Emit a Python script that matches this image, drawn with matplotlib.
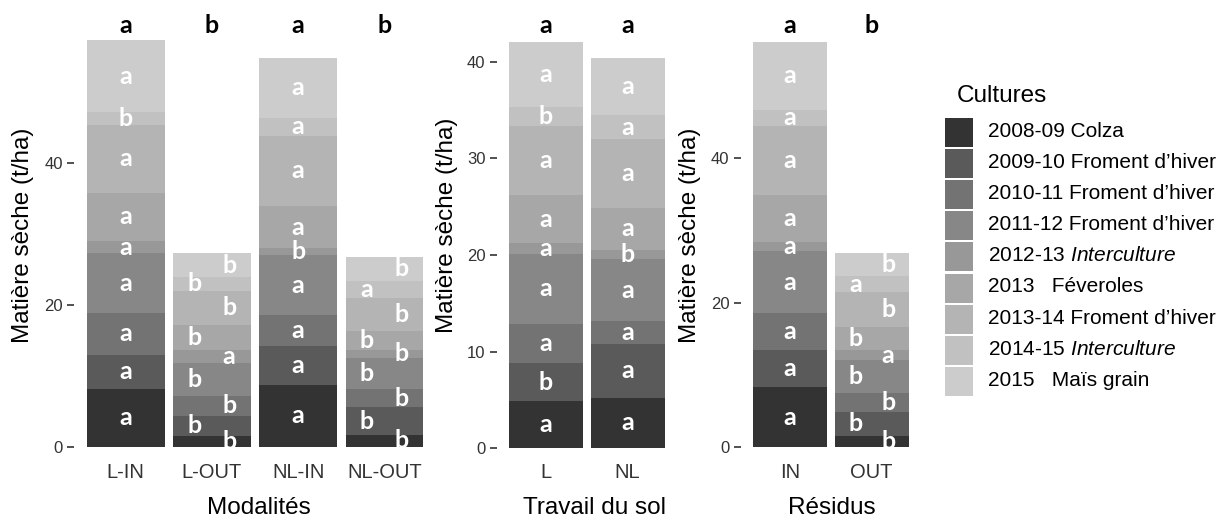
import matplotlib
matplotlib.use('Agg')
import matplotlib.pyplot as plt
from matplotlib.patches import Rectangle
from matplotlib.transforms import blended_transform_factory
import numpy as np

plt.rcParams['font.family'] = ['Liberation Sans', 'DejaVu Sans']
plt.rcParams['mathtext.fontset'] = 'custom'
plt.rcParams['mathtext.rm'] = 'Liberation Sans'
plt.rcParams['mathtext.it'] = 'Liberation Sans:italic'

# => DATA (t/ha, stacked from 2008-09 Colza up to 2015 Maïs grain)
cultures = [
    "2008-09 Colza",
    "2009-10 Froment d\u2019hiver",
    "2010-11 Froment d\u2019hiver",
    "2011-12 Froment d\u2019hiver",
    r"2012-13 $\mathit{Interculture}$",
    "2013   F\u00e9veroles",
    "2013-14 Froment d\u2019hiver",
    r"2014-15 $\mathit{Interculture}$",
    "2015   Ma\u00efs grain",
]

modalites = ["L-IN", "L-OUT", "NL-IN", "NL-OUT"]
l_in = [8.2, 4.8, 5.9, 8.4, 1.8, 6.8, 9.5, 1.9, 10.1]
l_out = [1.5, 2.85, 2.85, 4.55, 1.9, 3.55, 4.8, 2.0, 3.3]
nl_in = [8.75, 5.45, 4.35, 8.5, 0.95, 6.05, 9.85, 2.55, 8.5]
nl_out = [1.65, 3.95, 2.55, 4.4, 1.1, 2.7, 4.6, 2.5, 3.4]
mod_letters = ["aaaaaaaba", "bbbbabbbb", "aaaabaaaa", "bbbbbbbab"]
mod_tops = ["a", "b", "a", "b"]

travail = ["L", "NL"]
sol_l = [4.85, 3.95, 4.05, 7.3, 1.05, 5.0, 7.15, 2.0, 6.65]
sol_nl = [5.25, 5.55, 2.4, 6.35, 0.95, 4.4, 7.05, 2.5, 5.95]
sol_letters = ["abaaaaaba", "aaaabaaaa"]
sol_tops = ["a", "a"]

residus = ["IN", "OUT"]
res_in = [8.3, 5.15, 5.15, 8.45, 1.25, 6.6, 9.45, 2.3, 9.3]
res_out = [1.55, 3.35, 2.65, 4.5, 1.4, 3.15, 4.8, 2.2, 3.3]
res_letters = ["aaaaaaaaa", "bbbbabbab"]
res_tops = ["a", "b"]

# ggplot scale_fill_grey(start=0.2, end=0.8)
palette = ["#333333", "#5A5A5A", "#737373", "#878787", "#989898",
           "#A7A7A7", "#B4B4B4", "#C1C1C1", "#CCCCCC"]

W, H = 1225, 519
TOP, BOT = 15, 460
fig = plt.figure(figsize=(W / 100, H / 100), dpi=100)


def px_rect(x0, x1):
    return [x0 / W, 1 - BOT / H, (x1 - x0) / W, (BOT - TOP) / H]


def draw_panel(rect, cats, bars, letters, tops, ylim, step, xlabel, xlab_x, ylab_xy):
    ax = fig.add_axes(rect)
    x = np.arange(len(cats))
    vals = np.array(bars)
    bottom = np.zeros(len(cats))
    stagger = ["OUT" in c for c in cats]

    for j in range(vals.shape[1]):
        ax.bar(x, vals[:, j], 0.9, bottom=bottom, color=palette[j], linewidth=0)
        for i in range(len(cats)):
            dx = (0.2 if j % 2 == 0 else -0.2) if stagger[i] else 0
            ax.text(x[i] + dx, bottom[i] + vals[i, j] / 2, letters[i][j],
                    ha="center", va="center", color="white", fontsize=18,
                    family="Lato", weight="bold")
        bottom += vals[:, j]

    trans = blended_transform_factory(ax.transData, ax.transAxes)
    for i, t in enumerate(tops):
        ax.text(x[i], (BOT - 33) / (BOT - TOP), t, transform=trans, ha="center",
                va="baseline", fontsize=18, family="Lato", weight="bold", color="black")

    ax.set_xlim(-0.6, len(cats) - 0.4)
    ax.set_ylim(*ylim)
    ax.set_xticks(x)
    ax.set_xticklabels(cats)
    ax.set_yticks(np.arange(0, bottom.max(), step))
    for s in ax.spines.values():
        s.set_visible(False)
    ax.tick_params(axis="x", length=0, pad=2.5, labelsize=14.5, labelcolor="#333333")
    ax.tick_params(axis="y", length=5, width=1.2, color="#333333", pad=3,
                   labelsize=12, labelcolor="#333333")

    ax.set_xlabel(xlabel, fontsize=17.5)
    ax.xaxis.set_label_coords(xlab_x, (BOT - 497) / (BOT - TOP))
    ax.set_ylabel("Mati\u00e8re s\u00e8che (t/ha)", fontsize=17.5)
    ax.yaxis.label.set_va("center")
    ax.yaxis.set_label_coords(*ylab_xy)
    return ax


draw_panel(px_rect(74, 436), modalites, [l_in, l_out, nl_in, nl_out], mod_letters, mod_tops,
           (-1.88, 60.97), 20, "Modalit\u00e9s", 0.512, (-0.141, 0.506))
draw_panel(px_rect(496.7, 676.8), travail, [sol_l, sol_nl], sol_letters, sol_tops,
           (-1.21, 44.83), 10, "Travail du sol", 0.543, (-0.276, 0.528))
draw_panel(px_rect(740.5, 920.9), residus, [res_in, res_out], res_letters, res_tops,
           (-1.75, 59.71), 20, "R\u00e9sidus", 0.507, (-0.28, 0.506))

# => LEGEND (drawn by hand to match the ggplot layout)
fig.text(957 / W, 1 - 102 / H, "Cultures", fontsize=17.5, va="baseline", ha="left")
for k, (lab, col) in enumerate(zip(cultures, palette)):
    top = 118 + k * 31.1
    fig.patches.append(Rectangle((945 / W, 1 - (top + 29) / H), 28 / W, 29 / H,
                                 transform=fig.transFigure, color=col, linewidth=0))
    fig.text(988 / W, 1 - (top + 19) / H, lab, fontsize=15, va="baseline", ha="left")

fig.savefig("out.png", dpi=100, facecolor="white")
